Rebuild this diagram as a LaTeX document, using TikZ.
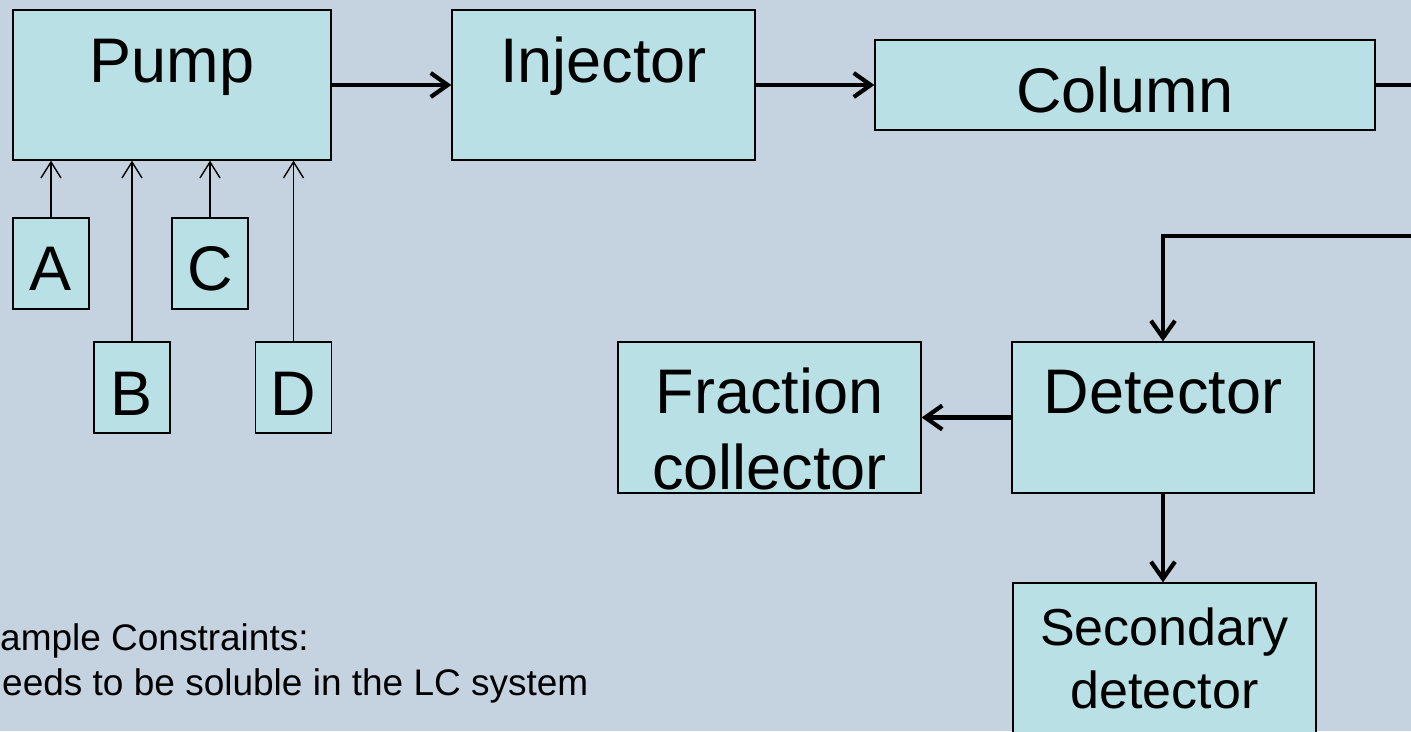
\documentclass[tikz,border=0pt]{standalone}
\usepackage{fontspec}
\setmainfont{Liberation Sans}
\usetikzlibrary{arrows.meta}
\definecolor{bgblue}{RGB}{197,211,224}
\definecolor{boxfill}{RGB}{185,224,228}
\tikzset{
  unit/.style={draw=black, line width=1.3pt, fill=boxfill, inner sep=0pt, align=center,
    font=\fontsize{63}{76}\selectfont},
  flow/.style={line width=4.2pt, -{Straight Barb[length=17pt,width=24pt,line width=4.2pt]}},
  feed/.style={line width=1.4pt, -{Straight Barb[length=16pt,width=20pt,line width=1.4pt]}}
}
\begin{document}
\begin{tikzpicture}[x=1pt,y=-1pt]
\useasboundingbox (0,0) rectangle (1411,731);
\clip (0,0) rectangle (1411,731);
\fill[bgblue] (0,0) rectangle (1411,731);

\node[unit, minimum width=318pt, minimum height=150pt, text height=72pt, text depth=78pt] (pump) at (172,85) {Pump};
\node[unit, minimum width=303pt, minimum height=150pt, text height=72pt, text depth=78pt] (inj) at (603.5,85) {Injector};
\node[unit, minimum width=500pt, minimum height=90pt, text height=72pt, text depth=18pt] (col) at (1125,85) {Column};

\node[unit, minimum width=76pt, minimum height=91pt, text height=72pt, text depth=19pt] (a) at (51,263.5) {A};
\node[unit, minimum width=76pt, minimum height=91pt, text height=73pt, text depth=18pt] (b) at (132,387.5) {B};
\node[unit, minimum width=76pt, minimum height=91pt, text height=72pt, text depth=19pt] (c) at (210,263.5) {C};
\node[unit, minimum width=76pt, minimum height=91pt, text height=73pt, text depth=18pt] (d) at (293.5,387.5) {D};

\node[unit, minimum width=302pt, minimum height=151pt, text height=71pt, text depth=80pt] (det) at (1163,417.5) {Detector};
\node[unit, minimum width=303pt, minimum height=151pt, text height=147pt, text depth=4pt] (frac) at (769.5,417.5) {Fraction\\collector};
\node[unit, minimum width=303pt, minimum height=177pt, text height=125pt, text depth=52pt,
  font=\fontsize{52}{63}\selectfont] (sec) at (1164.5,671.5) {Secondary\\detector};

\node[anchor=base west, align=left, font=\fontsize{37}{45}\selectfont] (note) at (-28,695)
  {Sample Constraints:\\Needs to be soluble in the LC system};

\draw[feed] (a.north) -- (a.north |- pump.south);
\draw[feed] (b.north) -- (b.north |- pump.south);
\draw[feed] (c.north) -- (c.north |- pump.south);
\draw[feed] (d.north) -- (d.north |- pump.south);

\coordinate (turn) at (1440,236);
\draw[flow] (pump.east) -- (inj.west);
\draw[flow] (inj.east) -- (col.west);
\draw[flow] (col.east) -| (turn) -| (det.north);
\draw[flow] (det.west) -- (frac.east);
\draw[flow] (det.south) -- (det.south |- sec.north);
\end{tikzpicture}
\end{document}
